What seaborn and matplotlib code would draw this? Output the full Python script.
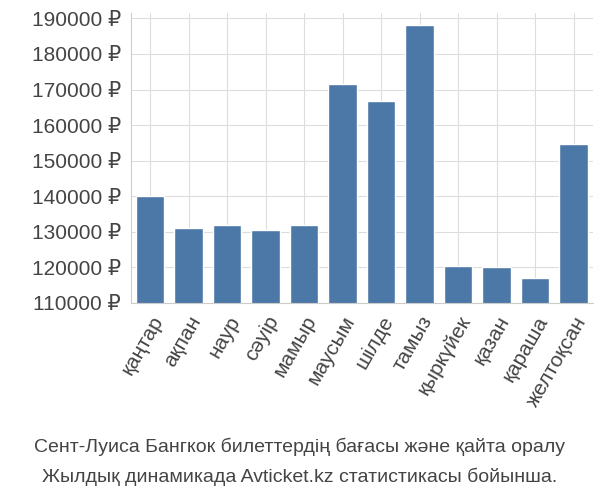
import matplotlib
matplotlib.use("Agg")
import matplotlib.pyplot as plt
import seaborn as sns
import pandas as pd

months = ["қаңтар","ақпан","наур","сәуір","мамыр","маусым","шілде","тамыз","қыркүйек","қазан","қараша","желтоқсан"]
prices = [140000,131000,132000,130500,131800,171500,166800,188200,120500,120000,117000,154800]
yticks = [110000,120000,130000,140000,150000,160000,170000,180000,190000]

sns.set_style("whitegrid")
plt.rcParams['font.family'] = ['Liberation Sans', 'DejaVu Sans']
fig = plt.figure(figsize=(6,5), dpi=100)
ax = fig.add_axes([0.218, 0.394, 0.77, 0.58])
df = pd.DataFrame({"m": months, "p": prices})
sns.barplot(data=df, x="m", y="p", color="#4c78a8", saturation=1, width=0.75, ax=ax)
ax.set_ylim(110000, 191500)
ax.set_yticks(yticks)
ax.set_yticklabels([f"{v} ₽" for v in yticks], fontsize=15, color="#444444")
ax.set_xticks(range(len(months)))
ax.set_xticklabels(months, rotation=60, ha="right", rotation_mode="anchor", fontsize=15, color="#444444")
ax.set_xlabel(""); ax.set_ylabel("")
ax.grid(True, color="#dddddd")
for s in ["top","right"]:
    ax.spines[s].set_visible(False)
for s in ["left","bottom"]:
    ax.spines[s].set_color("#cccccc")
fig.text(0.5, 0.095, "Сент-Луиса Бангкок билеттердің бағасы және қайта оралу", ha="center", fontsize=14, color="#444444")
fig.text(0.5, 0.035, "Жылдық динамикада Avticket.kz статистикасы бойынша.", ha="center", fontsize=14, color="#444444")
fig.savefig("out.png", dpi=100)
